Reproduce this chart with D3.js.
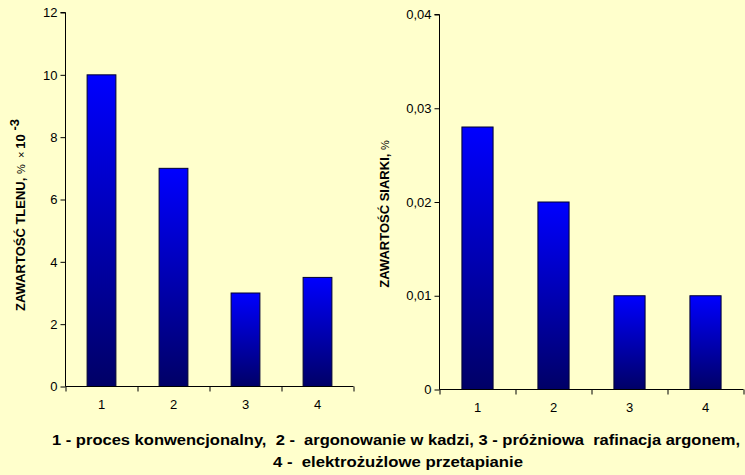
<!DOCTYPE html>
<html><head><meta charset="utf-8">
<script src="https://cdn.jsdelivr.net/npm/d3@7"></script>
<style>
body{margin:0;background:#FFFFCC;}
svg{display:block;}
text{font-family:"Liberation Sans",Arial,sans-serif;}
</style></head>
<body>
<svg id="c" width="745" height="475"></svg>
<script>
const categories = ["1","2","3","4"];
const oxygen = [10, 7, 3, 3.5];
const sulfur = [0.028, 0.02, 0.01, 0.01];
const oxygenTicks = [0,2,4,6,8,10,12];
const sulfurTicks = [0,0.01,0.02,0.03,0.04];
const legendLine1 = "1 - proces konwencjonalny,  2 -  argonowanie w kadzi, 3 - próżniowa  rafinacja argonem,";
const legendLine2 = "4 -  elektrożużlowe przetapianie";

const svg = d3.select("#c");
svg.append("rect").attr("width",745).attr("height",475).attr("fill","#FFFFCC");

const defs = svg.append("defs");
const g = defs.append("linearGradient").attr("id","bg").attr("x1",0).attr("y1",0).attr("x2",0).attr("y2",1);
g.append("stop").attr("offset","0%").attr("stop-color","#0000FF");
g.append("stop").attr("offset","100%").attr("stop-color","#000066");

function panel(opts){
  const {x0,x1,y0,y1,domain,ticks,values,fmt,pad} = opts;
  const x = d3.scaleBand().domain(categories).range([x0,x1]).paddingInner(pad).paddingOuter(pad/2);
  const xb = d3.scaleLinear().domain([0,categories.length]).range([x0,x1]);
  const y = d3.scaleLinear().domain(domain).range([y0,y1]);
  const G = svg.append("g");
  G.selectAll("rect.bar").data(values).join("rect")
    .attr("x",(d,i)=>x(categories[i])+0.5)
    .attr("y",d=>y(d)+0.5)
    .attr("width",x.bandwidth())
    .attr("height",d=>y0-y(d))
    .attr("fill","url(#bg)")
    .attr("stroke","#000033").attr("stroke-width",1);
  const ya = d3.axisLeft(y).tickValues(ticks).tickSize(5).tickPadding(3).tickFormat(fmt);
  const yg = G.append("g").attr("transform",`translate(${x0+0.5},0.5)`).call(ya);
  yg.select(".domain").attr("stroke","#000").attr("d",`M-5,${y1}H0V${y0}`);
  yg.selectAll("text").attr("font-size",13).attr("fill","#000");
  const xa = d3.axisBottom(xb).tickValues(d3.range(categories.length+1)).tickSize(5).tickFormat("");
  const xg = G.append("g").attr("transform",`translate(0.5,${y0+0.5})`).call(xa);
  xg.select(".domain").attr("d",`M${x0},0H${x1}`);
  const xl = d3.axisBottom(x).tickSize(0).tickPadding(14);
  const xlg = G.append("g").attr("transform",`translate(0.5,${y0})`).call(xl);
  xlg.select(".domain").remove();
  xlg.selectAll("text").attr("font-size",13).attr("fill","#000");
  return G;
}

panel({x0:65,x1:353,y0:386,y1:12,domain:[0,12],ticks:oxygenTicks,values:oxygen,
  fmt:d=>String(d),pad:0.6});
panel({x0:439,x1:743,y0:389,y1:14,domain:[0,0.04],ticks:sulfurTicks,values:sulfur,
  fmt:d=>d===0?"0":d3.format(".2f")(d).replace(".",","),pad:0.59});

// y titles
const t1 = svg.append("text").attr("transform","translate(25,215) rotate(-90)")
  .attr("text-anchor","middle").attr("font-size",13).attr("font-weight","bold").attr("xml:space","preserve");
t1.append("tspan").text("ZAWARTOŚĆ TLENU, ");
t1.append("tspan").attr("font-weight","normal").attr("font-size",11).text("%  × ");
t1.append("tspan").text("10");
t1.append("tspan").attr("dy",-6).text(" -3");

const t2 = svg.append("text").attr("transform","translate(389,214) rotate(-90)")
  .attr("text-anchor","middle").attr("font-size",13).attr("font-weight","bold").attr("xml:space","preserve");
t2.append("tspan").text("ZAWARTOŚĆ SIARKI, ");
t2.append("tspan").attr("font-weight","normal").attr("font-size",11).text("%");

// legend
svg.append("text").attr("x",396).attr("y",445).attr("text-anchor","middle")
  .attr("font-size",14.5).attr("font-weight","bold").attr("xml:space","preserve")
  .attr("textLength",688).attr("lengthAdjust","spacingAndGlyphs").text(legendLine1);
svg.append("text").attr("x",398).attr("y",467).attr("text-anchor","middle")
  .attr("font-size",14.5).attr("font-weight","bold").attr("xml:space","preserve")
  .attr("textLength",250).attr("lengthAdjust","spacingAndGlyphs").text(legendLine2);
</script>
</body></html>
